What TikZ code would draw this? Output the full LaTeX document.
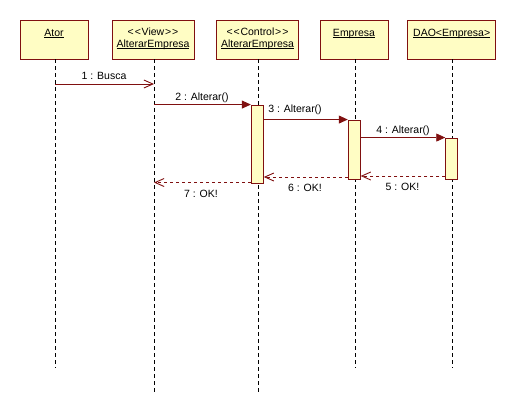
\documentclass[tikz,border=0pt]{standalone}
\usepackage{fontspec}
\newfontfamily\umlfont{Liberation Sans}
\usetikzlibrary{arrows.meta}
\definecolor{umlfill}{RGB}{255,253,196}
\definecolor{umlline}{RGB}{128,16,16}
% underlined object name, rule just below the baseline
\newcommand\objname[1]{\setbox0\hbox{#1}\rlap{\rule[-1.6pt]{\wd0}{0.7pt}}\box0}
% stereotype in guillemet-like angle brackets
\newcommand\stereo[1]{<\kern1pt<\kern0.8pt#1\kern0.8pt>\kern1pt>}

\begin{document}
\begin{tikzpicture}[x=1pt,y=-1pt,
  font=\umlfont\fontsize{10.5}{11.6}\selectfont,
  head/.style={draw=umlline, fill=umlfill, line width=0.9pt, minimum height=39pt, inner sep=0pt},
  htext/.style={anchor=base, inner sep=0pt, text=black},
  life/.style={draw=black, line width=0.8pt, dash pattern=on 4pt off 3pt},
  act/.style={draw=umlline, fill=umlfill, line width=0.9pt, minimum width=12pt, inner sep=0pt},
  call/.style={draw=umlline, line width=0.9pt, -{Triangle[length=9pt,width=8pt]}},
  open/.style={draw=umlline, line width=0.9pt, -{Straight Barb[length=9pt,width=8pt,line width=0.9pt]}},
  ret/.style={open, dash pattern=on 3pt off 3pt},
  mtext/.style={anchor=base, inner sep=0pt, text=black}
]
\useasboundingbox (0,0) rectangle (516,416);

% lifeline heads
\node[head, minimum width=68pt] (ator) at (54,39.5) {};
\node[head, minimum width=82pt] (view) at (153,39.5) {};
\node[head, minimum width=82pt] (ctl)  at (257.5,39.5) {};
\node[head, minimum width=68pt] (emp)  at (354,39.5) {};
\node[head, minimum width=88pt] (dao)  at (451.7,39.5) {};

\node[htext] (atorT)  at (54,36.2)    {\objname{Ator}};
\node[htext] (viewS)  at (153,35.5)   {\stereo{View}};
\node[htext] (viewT)  at (153,47.1)   {\objname{AlterarEmpresa}};
\node[htext] (ctlS)   at (257.5,35.5) {\stereo{Control}};
\node[htext] (ctlT)   at (257.5,47.1) {\objname{AlterarEmpresa}};
\node[htext] (empT)   at (354,36.2)   {\objname{Empresa}};
\node[htext] (daoT)   at (451.7,36.2) {\objname{DAO<Empresa>}};

% lifeline ends
\coordinate (atorEnd) at (55,368);
\coordinate (viewEnd) at (154,392);
\coordinate (ctlEnd)  at (258.5,392);
\coordinate (empEnd)  at (355.5,368);
\coordinate (daoEnd)  at (452.5,368);

\draw[life] (ator.south -| atorEnd) -- (atorEnd);
\draw[life] (view.south -| viewEnd) -- (viewEnd);
\draw[life] (ctl.south -| ctlEnd)   -- (ctlEnd);
\draw[life] (emp.south -| empEnd)   -- (empEnd);
\draw[life] (dao.south -| daoEnd)   -- (daoEnd);

% activation bars
\node[act, minimum height=78pt] (ctlA) at (257.3,144)   {};
\node[act, minimum height=59pt] (empA) at (354.2,149.5) {};
\node[act, minimum height=41pt] (daoA) at (451.7,158.5) {};

% message rows
\coordinate (y1) at (0,84);
\coordinate (y5) at (0,176);
\coordinate (y6) at (0,177);
\coordinate (y7) at (0,182.5);

\draw[open] (atorEnd |- y1) -- (viewEnd |- y1);
\draw[call] (viewEnd |- ctlA.north) -- (ctlA.north west);
\draw[call] (ctlA.east |- empA.north) -- (empA.north west);
\draw[call] (empA.east |- daoA.north) -- (daoA.north west);
\draw[ret]  (daoA.west |- y5) -- (empA.east |- y5);
\draw[ret]  (empA.west |- y6) -- (ctlA.east |- y6);
\draw[ret]  (ctlA.west |- y7) -- (viewEnd |- y7);

\node[mtext] (l1) at (104,79.5)   {1 : Busca};
\node[mtext] (l2) at (202,100.5)  {2 : Alterar()};
\node[mtext] (l3) at (295,112)    {3 : Alterar()};
\node[mtext] (l4) at (403,133)    {4 : Alterar()};
\node[mtext] (l5) at (402.5,190.5){5 : OK!};
\node[mtext] (l6) at (305,191.5)  {6 : OK!};
\node[mtext] (l7) at (201,197)    {7 : OK!};
\end{tikzpicture}
\end{document}
